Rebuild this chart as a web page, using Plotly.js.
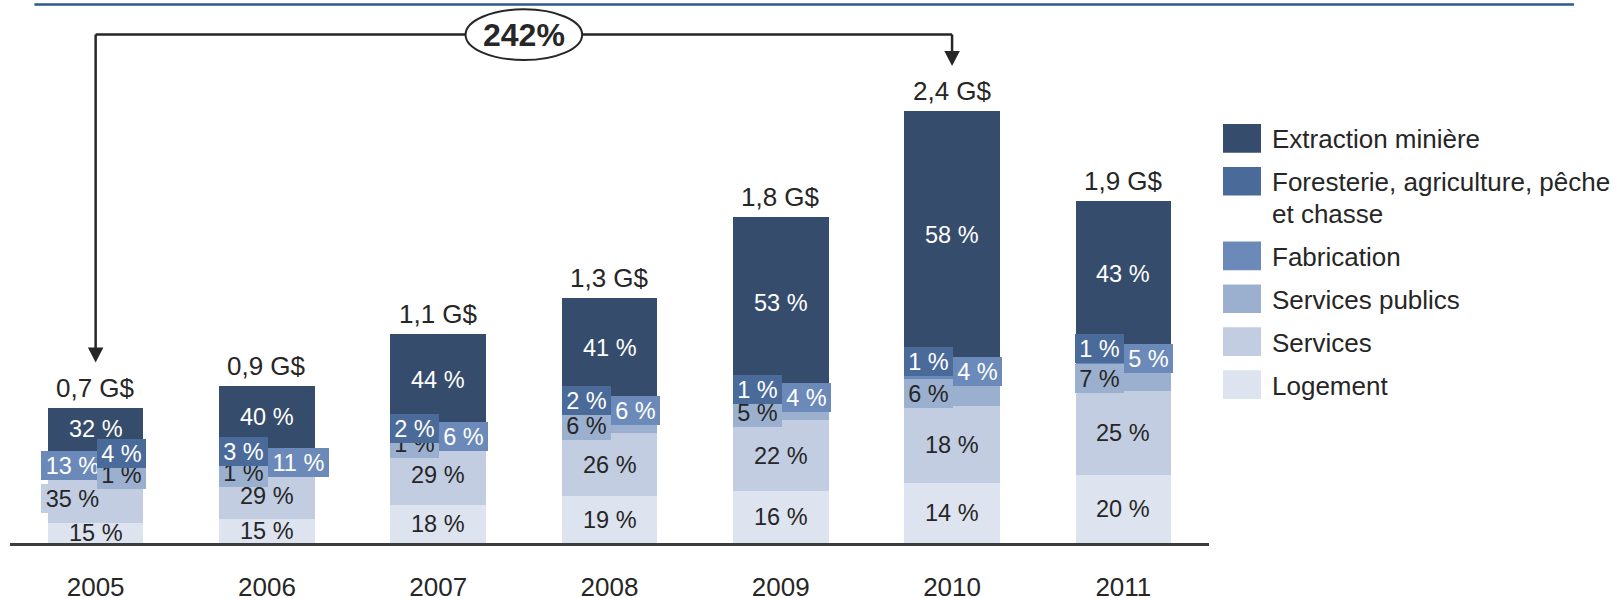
<!DOCTYPE html>
<html><head><meta charset="utf-8">
<script src="https://cdn.plot.ly/plotly-3.0.1.min.js"></script>
<style>html,body{margin:0;padding:0;background:#fff;} #chart{width:1619px;height:598px;}</style>
</head><body><div id="chart"></div>
<script>
// ---------------- DATA ----------------
const years = ['2005','2006','2007','2008','2009','2010','2011'];
const totalValues = [0.74, 0.86, 1.14, 1.34, 1.78, 2.36, 1.87];   // G$
const totalLabels = ['0,7 G$','0,9 G$','1,1 G$','1,3 G$','1,8 G$','2,4 G$','1,9 G$'];
const extraction      = [32, 40, 44, 41, 53, 58, 43];   // %
const foresterie      = [ 4,  3,  2,  2,  1,  1,  1];
const fabrication     = [13, 11,  6,  6,  4,  4,  5];
const servicesPublics = [ 1,  1,  1,  6,  5,  6,  7];
const services        = [35, 29, 29, 26, 22, 18, 25];
const logement        = [15, 15, 18, 19, 16, 14, 20];
const seriesNames = ['Extraction minière', 'Foresterie, agriculture, pêche<br>et chasse', 'Fabrication',
                     'Services publics', 'Services', 'Logement'];
const growthText = '242%';

// ---------------- STYLE ----------------
const shares = [extraction, foresterie, fabrication, servicesPublics, services, logement];
const COLORS = ['#364c6d', '#4a6a9a', '#6b8aba', '#9bb0cf', '#c2cde1', '#dde4ef'];
const TEXT_COLORS = ['#ffffff', '#ffffff', '#ffffff', '#262626', '#262626', '#262626'];
const PLACE = [
  ['c','c','c','c','c','c','c'],
  ['R','L','L','L','L','L','L'],
  ['L','R','R','R','R','R','R'],
  ['R','L','L','L','L','L','L'],
  ['L','c','c','c','c','c','c'],
  ['c','c','c','c','c','c','c']
];
const EXTRA_SHIFT = {'2-0': 7.5, '4-0': 7};
const FONT = 'Liberation Sans, Arial, sans-serif';
const DARK = '#262626';
const W = 1619, H = 598;
const M = {l: 10, r: 410, t: 0, b: 55};
const PLOT_W = W - M.l - M.r, PLOT_H = H - M.t - M.b;
const PX_PER_UNIT = 183;
const Y_MAX = PLOT_H / PX_PER_UNIT;
const px2paperX = px => (px - M.l) / PLOT_W;
const px2paperY = py => 1 - (py - M.t) / PLOT_H;
const px2y = py => (M.t + PLOT_H - py) / PX_PER_UNIT;

const measureCanvas = document.createElement('canvas');
const mctx = measureCanvas.getContext('2d');
function textWidth(t, size) { mctx.font = size + 'px "Liberation Sans", Arial, sans-serif'; return mctx.measureText(t).width; }

// ---------------- SEGMENTS ----------------
const nS = shares.length, nY = years.length;
const seg = shares.map(() => new Array(nY).fill(0));
const segBase = shares.map(() => new Array(nY).fill(0));
for (let i = 0; i < nY; i++) {
  let sum = 0; for (let s = 0; s < nS; s++) sum += shares[s][i];
  let acc = 0;
  for (let s = nS - 1; s >= 0; s--) {
    seg[s][i] = totalValues[i] * shares[s][i] / sum;
    segBase[s][i] = acc; acc += seg[s][i];
  }
}

const traces = [];
for (let s = nS - 1; s >= 0; s--) {
  traces.push({type: 'bar', x: years, y: seg[s], name: seriesNames[s].replace('<br>', ' '),
    marker: {color: COLORS[s], line: {width: 0}}, hoverinfo: 'skip', showlegend: false});
}

// ---------------- ANNOTATIONS ----------------
const annotations = [];
const PCT_SIZE = 23.5;
const ORDER = [5, 4, 0, 2, 3, 1];
for (let i = 0; i < nY; i++) {
  for (const s of ORDER) {
    const txt = shares[s][i] + ' %';
    const a = {x: i, y: segBase[s][i] + seg[s][i] / 2, xref: 'x', yref: 'y', yanchor: 'middle',
      text: txt, showarrow: false, font: {family: FONT, size: PCT_SIZE, color: TEXT_COLORS[s]}};
    const p = PLACE[s][i];
    if (p !== 'c') {
      const extra = EXTRA_SHIFT[s + '-' + i] || 0;
      a.xanchor = p === 'L' ? 'right' : 'left';
      a.xshift = 1 + extra;
      a.bgcolor = COLORS[s]; a.bordercolor = COLORS[s]; a.borderwidth = 1; a.borderpad = 1;
      a.width = Math.round(textWidth(txt, PCT_SIZE) + 5); a.height = 25;
    }
    annotations.push(a);
  }
  annotations.push({x: i, y: totalValues[i], xref: 'x', yref: 'y', yanchor: 'bottom', yshift: 3,
    text: totalLabels[i], showarrow: false, font: {family: FONT, size: 26, color: DARK}});
}

// growth bracket
const startIdx = 0;
const peakIdx = totalValues.indexOf(Math.max(...totalValues));
const BRACKET_Y = 34.5, ARROW_GAP = 45, ARROW_H = 15, ARROW_HALF = 7.75;
const shapes = [];
shapes.push({type: 'line', xref: 'x', yref: 'paper', x0: startIdx, x1: peakIdx,
  y0: px2paperY(BRACKET_Y), y1: px2paperY(BRACKET_Y), line: {color: DARK, width: 2.5}});
for (const idx of [startIdx, peakIdx]) {
  shapes.push({type: 'line', xref: 'x', yref: 'y', x0: idx, x1: idx,
    y0: totalValues[idx] + (ARROW_GAP + ARROW_H - 1) / PX_PER_UNIT, y1: px2y(BRACKET_Y),
    line: {color: DARK, width: 2.5}});
  shapes.push({type: 'path', xref: 'x', yref: 'y', xsizemode: 'pixel', ysizemode: 'pixel',
    xanchor: idx, yanchor: totalValues[idx],
    path: `M${-ARROW_HALF},${ARROW_GAP + ARROW_H} L${ARROW_HALF},${ARROW_GAP + ARROW_H} L0,${ARROW_GAP} Z`,
    fillcolor: DARK, line: {width: 0}});
}
const midIdx = (startIdx + peakIdx) / 2;
shapes.push({type: 'circle', xref: 'x', xsizemode: 'pixel', xanchor: midIdx, x0: -58.3, x1: 58.3,
  yref: 'paper', y0: px2paperY(60), y1: px2paperY(9.3), fillcolor: '#ffffff', line: {color: DARK, width: 2}});
annotations.push({x: midIdx, y: px2paperY(35), xref: 'x', yref: 'paper', yanchor: 'middle',
  text: '<b>' + growthText + '</b>', showarrow: false, font: {family: FONT, size: 32, color: DARK}});

// top rule
shapes.push({type: 'line', xref: 'paper', yref: 'paper', x0: px2paperX(34.4), x1: px2paperX(1574),
  y0: px2paperY(4.5), y1: px2paperY(4.5), line: {color: '#2c5a8c', width: 2.5}});

// legend
let legTop = 124;
const SW_X0 = 1223, SW_X1 = 1261, SW_H = 28.7, TXT_X = 1271, ROW = 42.9, LINE = 31.7;
for (let s = 0; s < nS; s++) {
  shapes.push({type: 'rect', xref: 'paper', yref: 'paper', x0: px2paperX(SW_X0), x1: px2paperX(SW_X1),
    y0: px2paperY(legTop + SW_H), y1: px2paperY(legTop), fillcolor: COLORS[s], line: {width: 0}});
  const lines = seriesNames[s].split('<br>');
  lines.forEach((ln, k) => {
    annotations.push({x: px2paperX(TXT_X), y: px2paperY(legTop + 15.5 + k * LINE), xref: 'paper', yref: 'paper',
      xanchor: 'left', yanchor: 'middle', text: ln, showarrow: false, borderpad: 0,
      font: {family: FONT, size: 26, color: DARK}});
  });
  legTop += ROW + (lines.length - 1) * LINE;
}

const layout = {
  width: W, height: H, margin: M,
  paper_bgcolor: '#ffffff', plot_bgcolor: '#ffffff',
  barmode: 'stack', bargap: 0.4425, showlegend: false,
  font: {family: FONT, color: DARK},
  xaxis: {type: 'category', categoryorder: 'array', categoryarray: years, range: [-0.5, nY - 0.5],
    showline: true, linecolor: '#3c3c3c', linewidth: 2.5, ticks: '', showgrid: false, zeroline: false,
    tickfont: {family: FONT, size: 26, color: DARK}, ticklabelstandoff: 19, automargin: false, fixedrange: true},
  yaxis: {range: [0, Y_MAX], visible: false, showgrid: false, zeroline: false, fixedrange: true},
  shapes: shapes, annotations: annotations
};
Plotly.newPlot('chart', traces, layout, {staticPlot: true, displayModeBar: false});
</script>
</body></html>
